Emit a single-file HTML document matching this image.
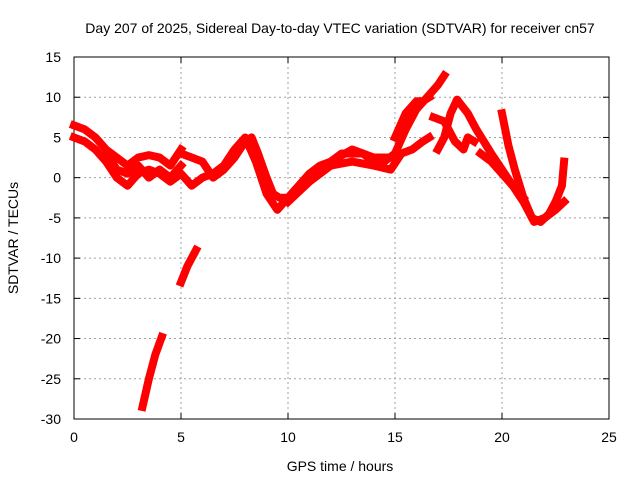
<!DOCTYPE html>
<html><head><meta charset="utf-8"><style>
body{margin:0;background:#fff}
svg{display:block;font-family:"Liberation Sans",sans-serif}
</style></head><body>
<svg id="chart" width="640" height="480" viewBox="0 0 640 480">
<rect x="0" y="0" width="640" height="480" fill="#fff"/>
<text x="340" y="33" font-size="14" text-anchor="middle">Day 207 of 2025, Sidereal Day-to-day VTEC variation (SDTVAR) for receiver cn57</text>
<g id="grid"></g>
<g id="axes"></g>
<g id="series"></g>
<text x="340" y="471" font-size="14" text-anchor="middle">GPS time / hours</text>
<text x="18" y="238" font-size="14" text-anchor="middle" transform="rotate(-90 18 238)">SDTVAR / TECUs</text>
</svg>
<script>
const xTicks=[0,5,10,15,20,25];
const yTicks=[15,10,5,0,-5,-10,-15,-20,-25,-30];
const trackA=[[0,6.5],[0.5,6],[1,5],[1.5,3.5],[2,2.5],[2.5,1.5],[3,2.5],[3.5,2.8],[4,2.5],[4.5,1.5],[5,3.5]];
const trackB=[[0,5],[0.5,4.5],[1,3.5],[1.5,2],[2,0],[2.5,-1],[3,0.5],[3.5,1],[4,0.5],[4.5,-0.5],[5,0.5],[5.5,-1],[6,0],[6.5,0.5],[7,1.5],[7.5,3.5],[8,5],[8.5,2],[9,-2],[9.5,-4],[10,-2.5],[10.5,-1.5]];
const trackC=[[5,3],[5.5,2.5],[6,2],[6.5,0],[7,1],[7.5,2.5],[8,4.5],[8.3,5],[8.6,3],[9,0],[9.3,-2],[9.6,-2.5],[10,-2.5],[10.5,-1],[11,0.5],[11.5,1.5],[12,2],[12.5,3],[13,3],[13.5,3],[14,2],[14.5,2],[15,3],[15.5,6],[16,8.5],[16.5,10],[17,11.5],[17.3,12.7]];
const trackC2=[[1.5,3],[2,1],[2.5,0.5],[3,1.5],[3.5,0],[4,1],[4.5,0],[5,1.5]];
const trackD=[[10,-3],[11,-0.5],[12,1.5],[13,2],[14,1.5],[14.8,1],[15.3,3],[15.8,3.5],[16.3,4.5],[16.6,5]];
const trackD2=[[11,0],[12,2],[13,3.5],[14,2.5],[15,2.5]];
const trackE=[[15,5],[15.5,8],[16,9.5],[16.3,9.5],[16.6,10]];
const trackF=[[17,3.5],[17.3,5],[17.6,8],[17.9,9.7],[18.4,8],[18.8,6],[19.5,3],[20,1],[20.5,-1],[21,-2.5]];
const trackF2=[[16.8,7.5],[17.3,7],[17.8,4.5],[18.2,3.5],[18.4,5],[18.7,4.5]];
const trackG=[[20,8],[20.3,4],[20.6,1],[21,-2.5],[21.4,-5],[21.8,-5.5],[22.2,-4.5],[22.5,-3],[22.8,-1],[22.9,2]];
const trackH=[[19,3],[19.5,2],[20,0.5],[20.5,-1],[21,-3],[21.5,-5.5],[22,-5],[22.5,-4],[22.9,-3]];
const trackL1=[[3.2,-28.5],[3.5,-25],[3.8,-22],[4.1,-19.8]];
const trackL2=[[5,-13],[5.3,-11],[5.7,-9]];
const tracks=[trackA,trackB,trackC,trackC2,trackD,trackD2,trackE,trackF,trackF2,trackG,trackH,trackL1,trackL2];

const X0=74,X1=609,Y0=57,Y1=419,xmin=0,xmax=25,ymin=-30,ymax=15;
const sx=v=>X0+(v-xmin)/(xmax-xmin)*(X1-X0);
const sy=v=>Y1-(v-ymin)/(ymax-ymin)*(Y1-Y0);
const NS='http://www.w3.org/2000/svg';
function mk(t,a,p){const e=document.createElementNS(NS,t);for(const k in a)e.setAttribute(k,a[k]);p.appendChild(e);return e;}
const grid=document.getElementById('grid'),axes=document.getElementById('axes'),ser=document.getElementById('series');
xTicks.forEach(t=>{
  const x=sx(t);
  if(t>0&&t<25){const l=mk('line',{x1:x,y1:Y0,x2:x,y2:Y1,stroke:'#a0a0a0','stroke-dasharray':'2,3'},grid);
  }
  const tk=mk('line',{x1:x,y1:Y1,x2:x,y2:Y1-6,stroke:'#000'},axes);
  
  const tk2=mk('line',{x1:x,y1:Y0,x2:x,y2:Y0+6,stroke:'#000'},axes);
  
  const tx=mk('text',{x:x,y:Y1+23,'font-size':14,'text-anchor':'middle'},axes);tx.textContent=t;
  
});
yTicks.forEach(t=>{
  const y=sy(t);
  if(t<15&&t>-30){const l=mk('line',{x1:X0,y1:y,x2:X1,y2:y,stroke:'#a0a0a0','stroke-dasharray':'2,3'},grid);
  }
  const tk=mk('line',{x1:X0,y1:y,x2:X0+6,y2:y,stroke:'#000'},axes);
  
  const tk2=mk('line',{x1:X1,y1:y,x2:X1-6,y2:y,stroke:'#000'},axes);
  
  const tx=mk('text',{x:X0-13,y:y+5,'font-size':14,'text-anchor':'end'},axes);tx.textContent=t;
  
});
const fr=mk('rect',{x:X0,y:Y0,width:X1-X0,height:Y1-Y0,fill:'none',stroke:'#000'},axes);

tracks.forEach(tr=>{
  const p=mk('polyline',{points:tr.map(d=>sx(d[0])+','+sy(d[1])).join(' '),fill:'none',stroke:'#f00','stroke-width':8,'stroke-linejoin':'round','stroke-linecap':'square'},ser);
  
});
</script>
</body></html>
